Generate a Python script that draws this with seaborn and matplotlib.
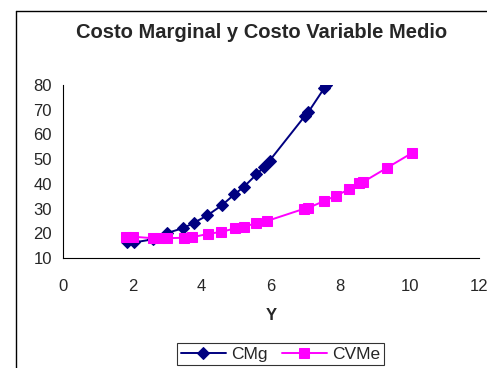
import matplotlib
matplotlib.use("Agg")
import matplotlib.pyplot as plt
import seaborn as sns
import pandas as pd
from matplotlib.lines import Line2D

# Data
y_cmg = [1.86, 2.05, 2.61, 3.00, 3.47, 3.77, 4.16, 4.58, 4.94, 5.21, 5.58, 5.79, 5.96, 6.98, 7.08, 7.53, 7.60]
cmg = [16.3, 16.3, 17.6, 20.1, 22.1, 24.2, 27.2, 31.3, 35.7, 38.7, 43.8, 46.7, 49.4, 67.5, 69.1, 78.6, 79.8]

y_cvme = [1.82, 2.03, 2.61, 2.80, 3.00, 3.48, 3.72, 4.17, 4.57, 4.97, 5.21, 5.57, 5.89,
          6.95, 7.08, 7.54, 7.88, 8.25, 8.55, 8.65, 9.36, 10.08]
cvme = [18.6, 18.6, 18.0, 18.0, 18.0, 18.2, 18.4, 19.7, 20.6, 22.0, 22.7, 24.0, 25.0,
        29.9, 30.3, 33.1, 35.2, 37.8, 40.3, 40.7, 46.6, 52.6]

x_ticks = [0, 2, 4, 6, 8, 10, 12]
y_ticks = [10, 20, 30, 40, 50, 60, 70, 80]

sns.set_style("white")
plt.rcParams['font.family'] = ['Liberation Sans', 'DejaVu Sans']

fig = plt.figure(figsize=(4.87, 3.68), dpi=100)
ax = fig.add_axes([63/487, 1-258/368, (479-63)/487, (258-85)/368])

df1 = pd.DataFrame({"Y": y_cmg, "v": cmg})
df2 = pd.DataFrame({"Y": y_cvme, "v": cvme})
sns.lineplot(data=df1, x="Y", y="v", ax=ax, color="#000080", marker="D", markersize=6.3,
             markeredgecolor="#000080", linewidth=1.4, estimator=None, sort=False, label="CMg")
sns.lineplot(data=df2, x="Y", y="v", ax=ax, color="#FF00FF", marker="s", markersize=7.8,
             markeredgecolor="#FF00FF", linewidth=1.4, estimator=None, sort=False, label="CVMe")

ax.set_xlim(0, 12)
ax.set_ylim(10, 80)
ax.set_xticks(x_ticks)
ax.set_yticks(y_ticks)
ax.tick_params(axis='both', direction='out', length=4, width=0.8, labelsize=12, color='black', pad=4)
ax.tick_params(axis='x', pad=11)
for s in ['top', 'right']:
    ax.spines[s].set_visible(False)
for s in ['left', 'bottom']:
    ax.spines[s].set_color('black')
    ax.spines[s].set_linewidth(0.8)
ax.set_xlabel("Y", fontsize=12, fontweight='bold', labelpad=10)
ax.set_ylabel("")
ax.get_legend().remove()

fig.text(262/487, 1-33/368, "Costo Marginal y Costo Variable Medio", ha='center', va='center',
         fontsize=14.5, fontweight='bold')

h, l = ax.get_legend_handles_labels()
leg = fig.legend(h, l, loc='center', bbox_to_anchor=(280.5/487, 1-354/368), ncol=2,
                 frameon=True, fancybox=False, edgecolor='black', fontsize=12.5,
                 borderpad=0.2, handlelength=2.6, columnspacing=0.8, handletextpad=0.3)
leg.get_frame().set_linewidth(0.8)

fig.add_artist(Line2D([16/487, 16/487], [0, 1-11/368], color='black', linewidth=1.0, transform=fig.transFigure))
fig.add_artist(Line2D([16/487, 1], [1-11/368, 1-11/368], color='black', linewidth=1.0, transform=fig.transFigure))

fig.savefig("out.png", dpi=100)
